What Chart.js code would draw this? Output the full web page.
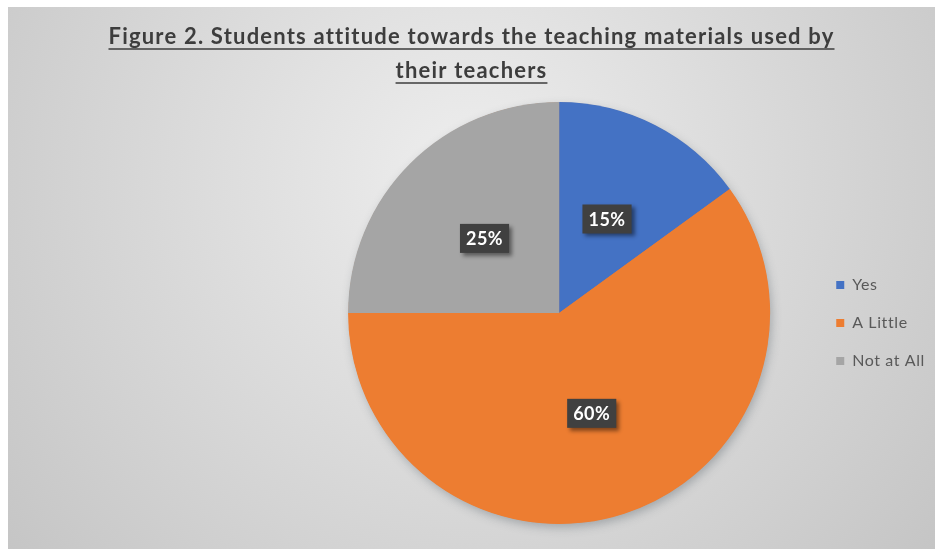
<!DOCTYPE html>
<html>
<head>
<meta charset="utf-8">
<title>Students attitude towards the teaching materials</title>
<script src="https://cdn.jsdelivr.net/npm/chart.js@4.4.1/dist/chart.umd.min.js"></script>
<style>
  html, body { margin: 0; padding: 0; background: #fff; }
  #wrap { position: absolute; left: 8px; top: 7px; width: 927px; height: 542px; }
</style>
</head>
<body>
<div id="wrap"><canvas id="pie"></canvas></div>
<script>
// Chart data
const titleLines = [
  'Figure 2. Students attitude towards the teaching materials used by',
  'their teachers'
];
const categories = ['Yes', 'A Little', 'Not at All'];
const shares = [15, 60, 25]; // percent of students
const sliceColors = ['#4472C4', '#ED7D31', '#A5A5A5'];

// Soft grey radial backdrop; also loosens the legend lettering a bit
const panelBackground = {
  id: 'panelBackground',
  beforeDraw(chart) {
    const { ctx, width, height } = chart;
    const g = ctx.createRadialGradient(460, 170, 0, 460, 170, 640);
    g.addColorStop(0, '#eeeeee');
    g.addColorStop(1, '#c2c2c2');
    ctx.save();
    ctx.fillStyle = g;
    ctx.fillRect(0, 0, width, height);
    ctx.restore();
    ctx.letterSpacing = '0.6px';
  }
};

// Two-line bold title with underline
const underlinedTitle = {
  id: 'underlinedTitle',
  afterDraw(chart) {
    const { ctx, width } = chart;
    ctx.save();
    ctx.font = 'bold 22px Lato';
    ctx.letterSpacing = '1.2px';
    ctx.fillStyle = '#3d3d3d';
    ctx.strokeStyle = '#3d3d3d';
    ctx.lineWidth = 1.5;
    ctx.textAlign = 'center';
    ctx.textBaseline = 'alphabetic';
    titleLines.forEach((line, i) => {
      const y = 37 + i * 34;
      ctx.fillText(line, width / 2, y);
      const w = ctx.measureText(line).width;
      ctx.beginPath();
      ctx.moveTo(width / 2 - w / 2, y + 5);
      ctx.lineTo(width / 2 + w / 2, y + 5);
      ctx.stroke();
    });
    ctx.restore();
  }
};

// Drop shadow under the whole pie
const pieShadow = {
  id: 'pieShadow',
  beforeDatasetsDraw(chart) {
    const { ctx } = chart;
    ctx.letterSpacing = '0px';
    const arc = chart.getDatasetMeta(0).data[0];
    if (!arc) return;
    const { x, y, outerRadius } = arc.getProps(['x', 'y', 'outerRadius'], true);
    ctx.save();
    ctx.shadowColor = 'rgba(70, 80, 90, 0.35)';
    ctx.shadowBlur = 10;
    ctx.shadowOffsetX = 2;
    ctx.shadowOffsetY = 4;
    ctx.fillStyle = sliceColors[1];
    ctx.beginPath();
    ctx.arc(x, y, outerRadius - 0.5, 0, Math.PI * 2);
    ctx.fill();
    ctx.restore();
  }
};

// Dark value boxes in the middle of each slice
const valueBoxes = {
  id: 'valueBoxes',
  afterDatasetsDraw(chart) {
    const { ctx } = chart;
    const meta = chart.getDatasetMeta(0);
    ctx.save();
    ctx.font = 'bold 18px Lato';
    ctx.letterSpacing = '0.5px';
    ctx.textAlign = 'center';
    ctx.textBaseline = 'middle';
    meta.data.forEach((arc, i) => {
      const { x, y } = arc.tooltipPosition(true);
      const text = shares[i] + '%';
      const w = ctx.measureText(text).width + 12;
      const h = 29;
      ctx.shadowColor = 'rgba(0, 0, 0, 0.45)';
      ctx.shadowBlur = 4;
      ctx.shadowOffsetX = 3;
      ctx.shadowOffsetY = 3;
      ctx.fillStyle = '#404040';
      ctx.fillRect(x - w / 2, y - h / 2, w, h);
      ctx.shadowColor = 'transparent';
      ctx.fillStyle = '#ffffff';
      ctx.fillText(text, x, y + 1);
    });
    ctx.restore();
  }
};

new Chart(document.getElementById('pie'), {
  type: 'pie',
  data: {
    labels: categories,
    datasets: [{
      data: shares,
      backgroundColor: sliceColors,
      borderWidth: 0
    }]
  },
  options: {
    responsive: true,
    maintainAspectRatio: false,
    animation: false,
    layout: { padding: { top: 95, bottom: 25, left: 296, right: 6 } },
    plugins: {
      tooltip: { enabled: false },
      legend: {
        position: 'right',
        title: { display: true, text: ' ', font: { size: 10 }, padding: 4 },
        labels: {
          boxWidth: 8,
          boxHeight: 8,
          padding: 22,
          color: '#595959',
          font: { family: 'Lato', size: 16 }
        }
      }
    }
  },
  plugins: [panelBackground, pieShadow, valueBoxes, underlinedTitle]
});
</script>
</body>
</html>
